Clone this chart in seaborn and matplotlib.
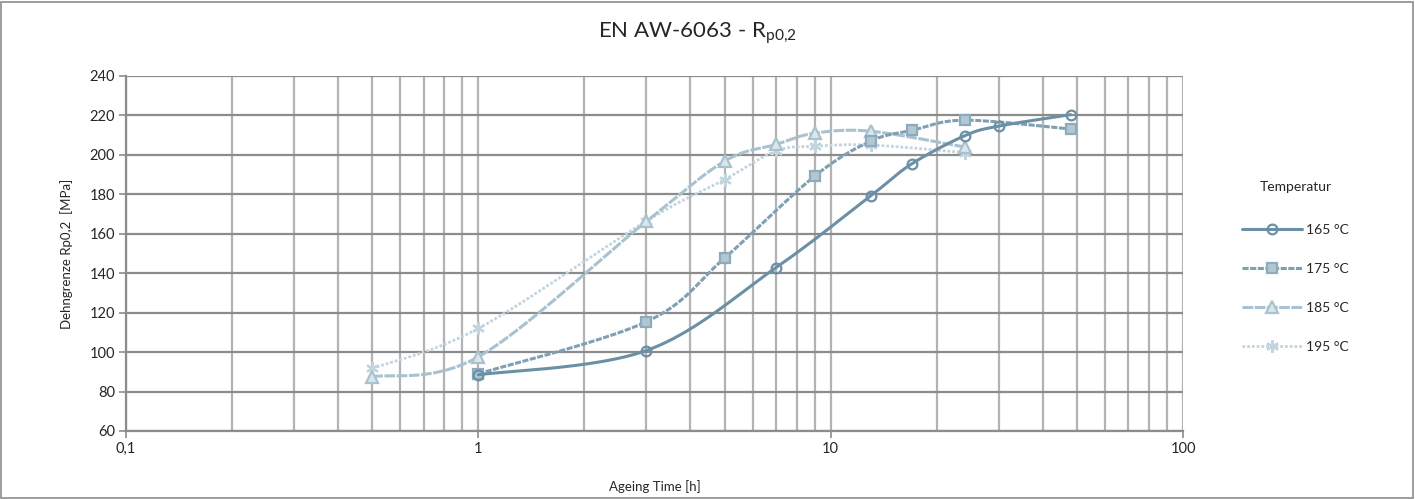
import numpy as np
import pandas as pd
import matplotlib
matplotlib.use("Agg")
import matplotlib.pyplot as plt
from matplotlib.lines import Line2D
from matplotlib.patches import Rectangle
from matplotlib.ticker import FixedLocator, FixedFormatter, NullFormatter
import seaborn as sns

# ---- data ----
title = "EN AW-6063 - R$_{\\mathregular{p0{,}2}}$"
x_label = "Ageing Time [h]"
y_label = "Dehngrenze Rp0,2  [MPa]"
legend_title = "Temperatur"
series_names = ["165 °C", "175 °C", "185 °C", "195 °C"]

time_165 = [1, 3, 7, 13, 17, 24, 30, 48]
rp_165 = [88.5, 100.8, 142.9, 179.3, 195.5, 209.7, 214.6, 220.4]

time_175 = [1, 3, 5, 9, 13, 17, 24, 48]
rp_175 = [89.0, 115.4, 147.7, 189.2, 207.0, 212.4, 217.6, 213.1]

time_185 = [0.5, 1, 3, 5, 7, 9, 13, 24]
rp_185 = [87.5, 97.6, 166.3, 196.8, 205.3, 211.0, 212.0, 204.0]

time_195 = [0.5, 1, 3, 5, 7, 9, 13, 24]
rp_195 = [91.7, 112.0, 166.5, 187.5, 202.0, 204.4, 205.0, 201.2]

x_ticks = [0.1, 1, 10, 100]
x_ticklabels = ["0,1", "1", "10", "100"]
y_ticks = [60, 80, 100, 120, 140, 160, 180, 200, 220, 240]


def smooth(x, y, n=40):
    """Excel-like smoothed line (Catmull-Rom Bezier) in log-x space."""
    pts = np.column_stack([np.log10(np.asarray(x, float)), np.asarray(y, float)])
    out = []
    for i in range(len(pts) - 1):
        p0 = pts[i - 1] if i > 0 else pts[i]
        p1, p2 = pts[i], pts[i + 1]
        p3 = pts[i + 2] if i + 2 < len(pts) else pts[i + 1]
        b1 = p1 + (p2 - p0) / 6.0
        b2 = p2 - (p3 - p1) / 6.0
        t = np.linspace(0, 1, n)[:, None]
        seg = (1 - t) ** 3 * p1 + 3 * (1 - t) ** 2 * t * b1 + 3 * (1 - t) * t ** 2 * b2 + t ** 3 * p2
        out.append(seg if i == 0 else seg[1:])
    s = np.vstack(out)
    return 10 ** s[:, 0], s[:, 1]


sns.set_theme(style="white")
plt.rcParams["font.family"] = ["Lato", "DejaVu Sans"]

fig = plt.figure(figsize=(14.15, 4.99), dpi=100)
ax = fig.add_axes([126 / 1415, 68 / 499, (1183 - 126) / 1415, (431 - 76) / 499])

styles = [
    dict(t=time_165, v=rp_165, color="#6b90a6", ls="-", lw=2.2, marker="o",
         mfc="none", mec="#6b90a6", ms=7, z=6),
    dict(t=time_175, v=rp_175, color="#7f9fb3", ls=(0, (2.0, 0.5)), lw=2.2, marker="s",
         mfc="#b3c7d3", mec="#8eabbd", ms=7.5, z=5),
    dict(t=time_185, v=rp_185, color="#a9c2cf", ls=(0, (3.5, 0.5)), lw=2.2, marker="^",
         mfc="#dbe6ec", mec="#a9c2cf", ms=8, z=4),
    dict(t=time_195, v=rp_195, color="#c2d5df", ls=(0, (1.0, 0.7)), lw=2.0, marker=(6, 2, 0),
         mfc="#c2d5df", mec="#c2d5df", ms=9, z=3),
]

handles = []
for name, st in zip(series_names, styles):
    sx, sy = smooth(st["t"], st["v"])
    df = pd.DataFrame({"time": sx, "rp": sy})
    sns.lineplot(data=df, x="time", y="rp", sort=False, estimator=None,
                 color=st["color"], linewidth=st["lw"], ax=ax, zorder=st["z"])
    ax.lines[-1].set_linestyle(st["ls"])
    ax.plot(st["t"], st["v"], linestyle="none", marker=st["marker"], ms=st["ms"],
            mfc=st["mfc"], mec=st["mec"], mew=1.6, zorder=st["z"] + 0.5)
    handles.append(Line2D([], [], color=st["color"], lw=st["lw"], linestyle=st["ls"],
                          marker=st["marker"], ms=st["ms"], mfc=st["mfc"],
                          mec=st["mec"], mew=1.6))

ax.set_xscale("log")
ax.set_xlim(0.1, 100)
ax.set_ylim(60, 240)
ax.xaxis.set_major_locator(FixedLocator(x_ticks))
ax.xaxis.set_major_formatter(FixedFormatter(x_ticklabels))
minor = [m * 10.0 ** e for e in (-1, 0, 1) for m in range(2, 10)]
ax.xaxis.set_minor_locator(FixedLocator(minor))
ax.xaxis.set_minor_formatter(NullFormatter())
ax.set_yticks(y_ticks)

ax.grid(False)
ax.grid(True, axis="x", which="both", color="#b3b3b3", linewidth=1.6, zorder=0)
ax.grid(True, axis="y", which="major", color="#8c8c8c", linewidth=1.6, zorder=0)
ax.set_axisbelow(True)
for s in ("top", "right"):
    ax.spines[s].set_visible(False)
for s in ("left", "bottom"):
    ax.spines[s].set_color("#8c8c8c")
    ax.spines[s].set_linewidth(1.6)
ax.tick_params(axis="both", which="major", direction="out", length=5, width=1.2,
               color="#8c8c8c", labelsize=10.5, labelcolor="#262626", pad=3,
               left=True, bottom=True)
ax.tick_params(axis="x", which="minor", length=0)

ax.set_xlabel(x_label, fontsize=9.5, color="#262626", labelpad=17)
ax.set_ylabel(y_label, fontsize=9.5, color="#262626", labelpad=12)

fig.text(697 / 1415, 1 - 33 / 499, title, ha="center", va="center", fontsize=16,
         color="#262626")

leg = fig.legend(handles=handles, labels=series_names, title=legend_title,
                 loc="center left", bbox_to_anchor=(1235 / 1415, 1 - 267 / 499),
                 frameon=False, fontsize=10, title_fontsize=10, handlelength=4.3,
                 handletextpad=0.3, labelspacing=1.95, borderpad=0)
leg._legend_box.sep = 22
for t in leg.get_texts():
    t.set_color("#262626")
leg.get_title().set_color("#262626")

fig.add_artist(Rectangle((1 / 1415, 1 / 499), 1412 / 1415, 496 / 499,
                         transform=fig.transFigure, fill=False,
                         edgecolor="#8c8c8c", linewidth=1.2))

fig.savefig("out.png", dpi=100)
